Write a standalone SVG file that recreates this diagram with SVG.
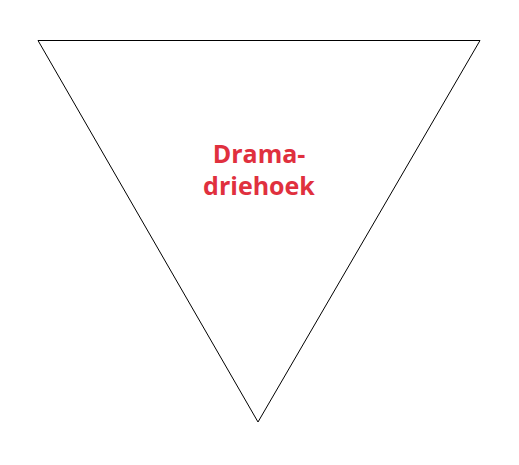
<svg xmlns="http://www.w3.org/2000/svg" width="519" height="465" viewBox="0 0 519 465">
<style>
.tri{fill:#fff;stroke:#000;stroke-width:1}
.lbl{font-family:"Open Sans","Liberation Sans",sans-serif;font-weight:bold;font-size:25px;fill:#e0303e;text-anchor:middle}
</style>
<rect width="519" height="465" fill="#fff"/>
<g id="triangle">
<polygon class="tri" points="38,40.5 480,40.5 258,422"/>
<text class="lbl" x="259" y="163"><tspan x="259" y="163">Drama-</tspan><tspan x="259" y="195">driehoek</tspan></text>
</g>
</svg>
